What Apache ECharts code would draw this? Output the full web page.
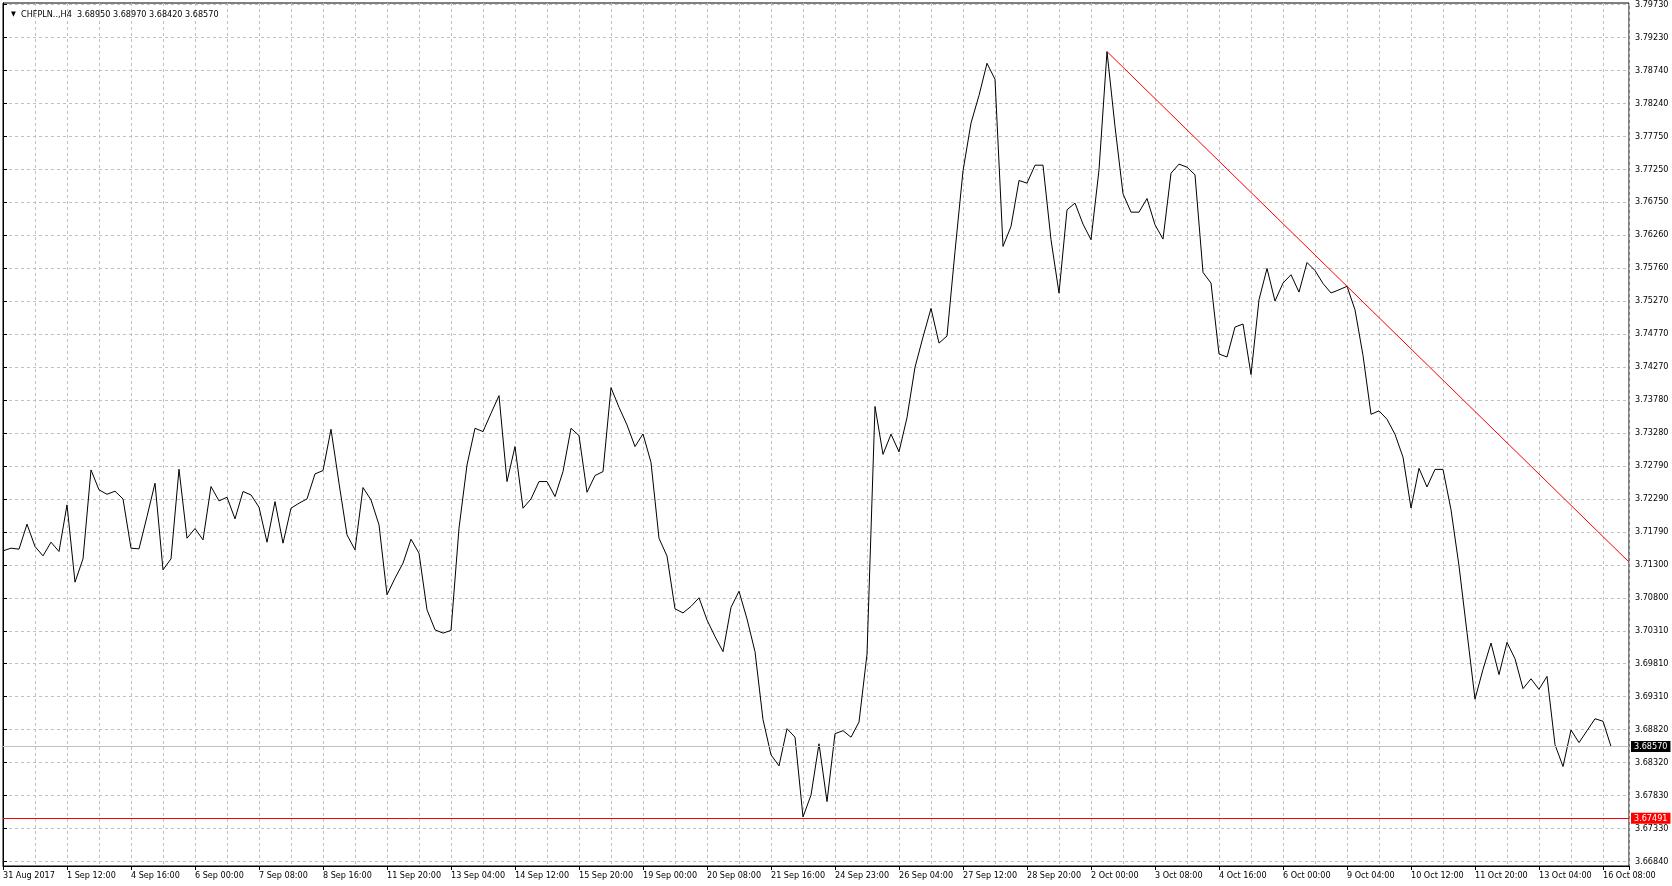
<!DOCTYPE html>
<html>
<head>
<meta charset="utf-8">
<script src="https://cdn.jsdelivr.net/npm/echarts@6/dist/echarts.min.js"></script>
<style>
  html, body { margin: 0; padding: 0; background: #fff; }
  #chart { width: 1672px; height: 886px; }
</style>
</head>
<body>
<div id="chart"></div>
<script>
// ---- data ----
const symbolTitle = 'CHFPLN..,H4';
const ohlc = ['3.68950', '3.68970', '3.68420', '3.68570'];

const closes = [
  3.71512, 3.71552, 3.71537, 3.71913, 3.71577, 3.71437, 3.71642, 3.71502,
  3.72203, 3.71041, 3.71392, 3.72729, 3.72429, 3.72363, 3.72409, 3.72293,
  3.71552, 3.71542, 3.72028, 3.72529, 3.71227, 3.71392, 3.72739, 3.71702,
  3.71848, 3.71677, 3.72479, 3.72263, 3.72318, 3.71993, 3.72404, 3.72353,
  3.72168, 3.71642, 3.72253, 3.71627, 3.72153, 3.72228, 3.72293, 3.72669,
  3.72719, 3.73340, 3.72529, 3.71752, 3.71527, 3.72464, 3.72278, 3.71903,
  3.70851, 3.71101, 3.71327, 3.71687, 3.71477, 3.70626, 3.70325, 3.70275,
  3.70315, 3.71853, 3.72804, 3.73355, 3.73305, 3.73580, 3.73846, 3.72554,
  3.73080, 3.72153, 3.72293, 3.72554, 3.72554, 3.72328, 3.72704, 3.73355,
  3.73245, 3.72393, 3.72644, 3.72704, 3.73966, 3.73671, 3.73405, 3.73080,
  3.73270, 3.72840, 3.71700, 3.71434, 3.70640, 3.70579, 3.70677, 3.70806,
  3.70473, 3.70223, 3.69996, 3.70662, 3.70904, 3.70488, 3.69996, 3.68974,
  3.68445, 3.68278, 3.68838, 3.68710, 3.67510, 3.67839, 3.68611, 3.67741,
  3.68763, 3.68808, 3.68710, 3.68937, 3.69958, 3.73683, 3.72963, 3.73266,
  3.73001, 3.73516, 3.74273, 3.74727, 3.75158, 3.74636, 3.74742, 3.76014,
  3.77225, 3.77944, 3.78360, 3.78844, 3.78603, 3.76090, 3.76390, 3.77081,
  3.77041, 3.77311, 3.77311, 3.76190, 3.75388, 3.76640, 3.76741, 3.76425,
  3.76190, 3.77241, 3.79019, 3.77892, 3.76881, 3.76605, 3.76605, 3.76810,
  3.76415, 3.76200, 3.77191, 3.77327, 3.77281, 3.77166, 3.75699, 3.75538,
  3.74472, 3.74427, 3.74877, 3.74923, 3.74162, 3.75288, 3.75759, 3.75268,
  3.75538, 3.75664, 3.75403, 3.75848, 3.75727, 3.75532, 3.75390, 3.75437,
  3.75490, 3.75136, 3.74451, 3.73565, 3.73617, 3.73491, 3.73264, 3.72921,
  3.72156, 3.72753, 3.72473, 3.72737, 3.72737, 3.72130, 3.71286, 3.70284,
  3.69282, 3.69730, 3.70126, 3.69651, 3.70136, 3.69889, 3.69440, 3.69588,
  3.69429, 3.69625, 3.68597, 3.68269, 3.68818, 3.68628, 3.68807, 3.68987,
  3.68950, 3.68570
];

// time labels, one every 8 bars (bar 0, 8, 16, ...)
const xTickLabels = [
  '31 Aug 2017', '1 Sep 12:00', '4 Sep 16:00', '6 Sep 00:00', '7 Sep 08:00',
  '8 Sep 16:00', '11 Sep 20:00', '13 Sep 04:00', '14 Sep 12:00', '15 Sep 20:00',
  '19 Sep 00:00', '20 Sep 08:00', '21 Sep 16:00', '24 Sep 23:00', '26 Sep 04:00',
  '27 Sep 12:00', '28 Sep 20:00', '2 Oct 00:00', '3 Oct 08:00', '4 Oct 16:00',
  '6 Oct 00:00', '9 Oct 04:00', '10 Oct 12:00', '11 Oct 20:00', '13 Oct 04:00',
  '16 Oct 08:00'
];
const barsPerLabel = 8;
const barsPerGrid = 4;

const yTickLabels = [
  '3.79730', '3.79230', '3.78740', '3.78240', '3.77750', '3.77250', '3.76750',
  '3.76260', '3.75760', '3.75270', '3.74770', '3.74270', '3.73780', '3.73280',
  '3.72790', '3.72290', '3.71790', '3.71300', '3.70800', '3.70310', '3.69810',
  '3.69310', '3.68820', '3.68320', '3.67830', '3.67330', '3.66840'
];
const yTickTop = 3.79730;
const yTickBottom = 3.66840;

const currentPrice = 3.68570;
const supportLevel = 3.67491;
// trend line anchors: [bar index, price]
const trendAnchors = [[138, 3.79019], [168, 3.75490]];

// ---- axis ranges ----
const X_MAX = 203.25;
const Y_MIN = 3.66773;
const Y_MAX = 3.79750;

const tickStep = (yTickTop - yTickBottom) / (yTickLabels.length - 1);
const yTickValues = yTickLabels.map((s, k) => yTickTop - k * tickStep);

const slope = (trendAnchors[1][1] - trendAnchors[0][1]) / (trendAnchors[1][0] - trendAnchors[0][0]);
const trendData = [trendAnchors[0], trendAnchors[1], [X_MAX, trendAnchors[0][1] + slope * (X_MAX - trendAnchors[0][0])]];

const FONT = "'DejaVu Sans Condensed', 'DejaVu Sans', sans-serif";

const chart = echarts.init(document.getElementById('chart'), null, { renderer: 'canvas' });
chart.setOption({
  animation: false,
  backgroundColor: '#ffffff',
  title: {
    text: '{tri|▼}  ' + symbolTitle + '  ' + ohlc.join(' '),
    left: 6, top: 5,
    textStyle: {
      fontSize: 9, fontWeight: 'normal', color: '#000', fontFamily: FONT,
      rich: { tri: { fontSize: 7, color: '#000', fontFamily: FONT } }
    }
  },
  grid: {
    left: 3, top: 3, right: 43, bottom: 20,
    show: true, borderColor: '#000', borderWidth: 1, backgroundColor: 'transparent',
    outerBoundsMode: 'none', containLabel: false
  },
  xAxis: [
    {
      type: 'value', min: 0, max: X_MAX, interval: barsPerGrid,
      axisLine: { show: false }, axisTick: { show: false }, axisLabel: { show: false },
      splitLine: { show: true, lineStyle: { color: '#c0c0c0', width: 1, type: [3, 3] } }
    },
    {
      type: 'value', min: 0, max: X_MAX, interval: barsPerLabel, position: 'bottom',
      axisLine: { show: true, lineStyle: { color: '#000', width: 1 } },
      axisTick: { show: true, length: 4, lineStyle: { color: '#000' } },
      axisLabel: {
        show: true, align: 'left', margin: 5, color: '#000', fontSize: 9, fontFamily: FONT,
        showMinLabel: true, showMaxLabel: true,
        formatter: function (v) {
          const k = v / barsPerLabel;
          return Number.isInteger(k) && xTickLabels[k] ? xTickLabels[k] : '';
        }
      },
      splitLine: { show: false }
    }
  ],
  yAxis: {
    type: 'value', position: 'right', min: Y_MIN, max: Y_MAX, scale: true,
    axisLine: { show: true, lineStyle: { color: '#000', width: 1 } },
    axisTick: { show: true, length: 4, customValues: yTickValues, lineStyle: { color: '#000' } },
    axisLabel: {
      show: true, customValues: yTickValues, margin: 6, color: '#000', fontSize: 9, fontFamily: FONT,
      formatter: function (v) {
        const k = Math.round((yTickTop - v) / tickStep);
        return yTickLabels[k] || '';
      }
    },
    splitLine: { show: true, lineStyle: { color: '#c0c0c0', width: 1, type: [3, 3] } }
  },
  series: [
    {
      type: 'line', xAxisIndex: 0, yAxisIndex: 0,
      data: closes.map((v, i) => [i, v]),
      showSymbol: false, symbol: 'none',
      lineStyle: { color: '#000', width: 1 },
      silent: true,
      markLine: {
        silent: true, symbol: 'none', animation: false, precision: 5,
        data: [
          {
            yAxis: currentPrice,
            lineStyle: { color: '#c0c0c0', width: 1, type: 'solid' },
            label: {
              show: true, position: 'end', distance: 2, formatter: currentPrice.toFixed(5),
              color: '#fff', backgroundColor: '#000', padding: [1, 3, 1, 3],
              fontSize: 9, fontFamily: FONT
            }
          },
          {
            yAxis: supportLevel,
            lineStyle: { color: '#ff0000', width: 1, type: 'solid' },
            label: {
              show: true, position: 'end', distance: 2, formatter: supportLevel.toFixed(5),
              color: '#fff', backgroundColor: '#ff0000', padding: [1, 3, 1, 3],
              fontSize: 9, fontFamily: FONT
            }
          }
        ]
      }
    },
    {
      type: 'line', xAxisIndex: 0, yAxisIndex: 0,
      data: trendData,
      showSymbol: false, symbol: 'none', silent: true,
      lineStyle: { color: '#ff0000', width: 1 }
    }
  ]
});
</script>
</body>
</html>
